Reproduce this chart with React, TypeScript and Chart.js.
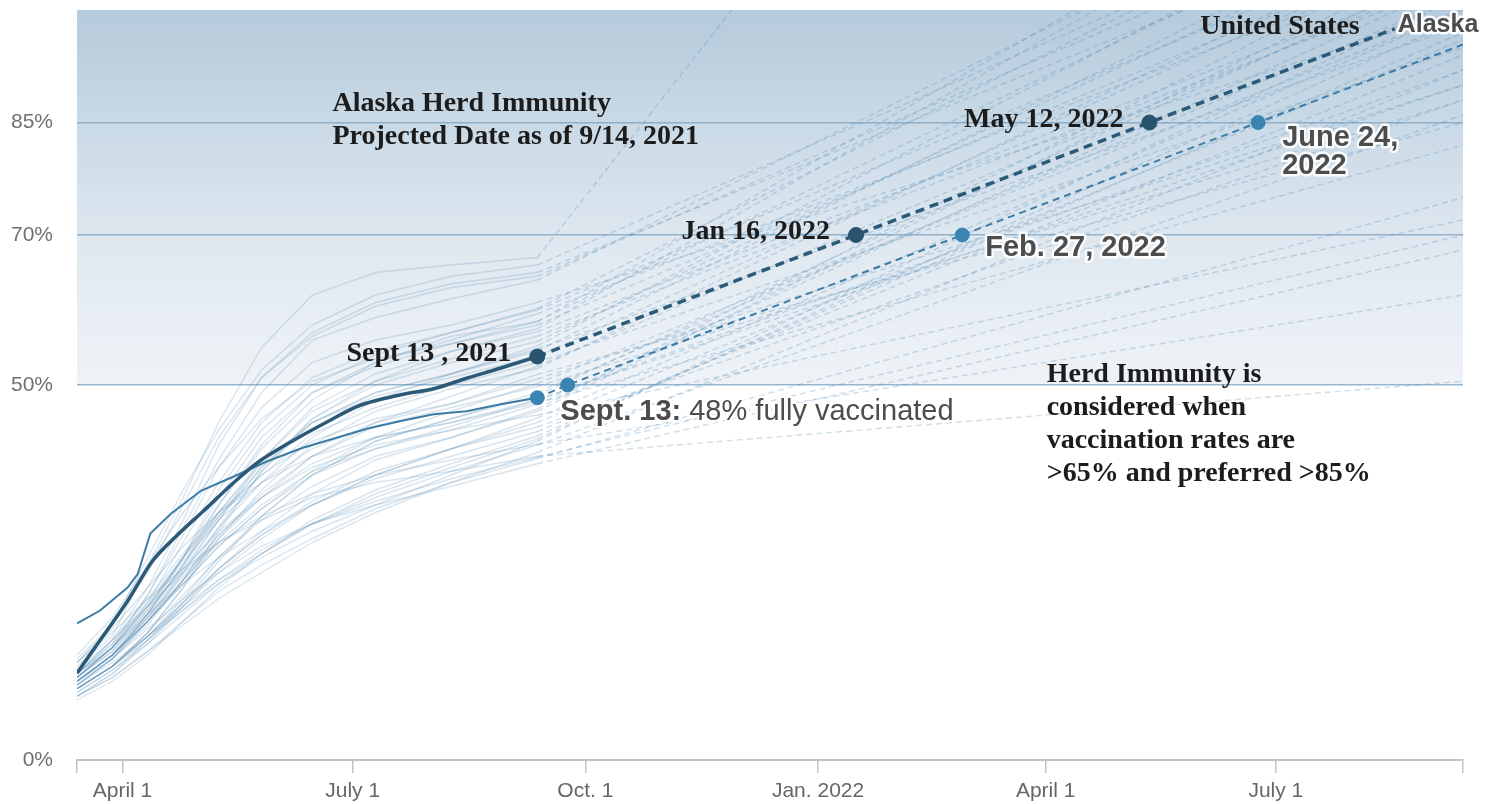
import React, { useEffect, useRef } from 'react';
import { Chart, registerables } from 'chart.js';

Chart.register(...registerables);

// x values are days counted from Jan 1, 2021 (day 0)
const X_MIN = 72; // Mar 14, 2021
const X_MAX = 620; // Sep 13, 2022
const X_TICK_DAYS = [72, 90, 181, 273, 365, 455, 546, 620];
const X_TICK_LABELS = ['', 'April 1', 'July 1', 'Oct. 1', 'Jan. 2022', 'April 1', 'July 1', ''];
const Y_TICK_VALUES = [0, 50, 70, 85];
const Y_TICK_LABELS = ['0%', '50%', '70%', '85%'];

// United States, % fully vaccinated
const US_DAYS = [72, 81, 92, 102, 112, 122, 134, 144, 157, 171, 184, 200, 213, 226, 239, 254];
const US_VALUES = [11.6, 15.9, 21.2, 26.6, 30.1, 33.2, 37.0, 39.8, 42.5, 45.1, 47.3, 48.7, 49.5, 50.9, 52.2, 53.8];
const US_PROJ_DAYS = [254, 380, 496, 593];
const US_PROJ_VALUES = [53.8, 70, 85, 97.5];
const US_MILESTONE_DAYS = [254, 380, 496];
const US_MILESTONE_VALUES = [53.8, 70, 85];
const US_MILESTONE_LABELS = ['Sept 13 , 2021', 'Jan 16, 2022', 'May 12, 2022'];

// Alaska, % fully vaccinated
const AK_DAYS = [72, 81, 92, 96, 101, 109, 121, 134, 147, 161, 175, 187, 200, 213, 226, 239, 254];
const AK_VALUES = [18.2, 19.9, 23.0, 24.8, 30.2, 32.8, 35.9, 37.8, 39.8, 41.6, 43.0, 44.2, 45.2, 46.1, 46.5, 47.4, 48.3];
const AK_PROJ_DAYS = [254, 266, 422, 539, 620];
const AK_PROJ_VALUES = [48.3, 50, 70, 85, 95.4];
const AK_MILESTONE_DAYS = [254, 266, 422, 539];
const AK_MILESTONE_VALUES = [48.3, 50, 70, 85];

// Other states: history on STATE_DAYS, then straight projection to X_MAX
const STATE_DAYS = [72, 86, 100, 114, 128, 145, 165, 190, 220, 254];
const STATE_NAMES = [
  'VT', 'ME', 'MA', 'CT', 'RI', 'NH', 'NJ', 'MD', 'WA', 'NY', 'NM', 'HI', 'OR', 'DC', 'CO', 'VA',
  'CA', 'MN', 'DE', 'PA', 'WI', 'IL', 'FL', 'IA', 'NE', 'MI', 'AZ', 'UT', 'NV', 'KS', 'KY', 'SD',
  'OH', 'NC', 'TX', 'MT', 'SC', 'MO', 'IN', 'OK', 'GA', 'ND', 'AR', 'TN', 'LA', 'MS', 'AL', 'WV',
  'WY', 'ID',
];
const STATE_VALUES = [
  [12.5, 16.5, 26, 35, 45, 55, 62, 65, 66, 67],
  [13.5, 18, 27, 36, 44, 52, 58, 62, 64.5, 66],
  [11.5, 16, 23, 32, 42, 51, 57, 61, 63.5, 65],
  [13, 18, 25, 34, 43, 51, 56.5, 60.5, 63, 64.5],
  [11, 15, 22, 31, 40, 49, 56, 59, 61.5, 64],
  [11.5, 15.5, 22, 30, 39, 47, 53, 56, 58, 61],
  [11, 15, 21, 29, 37, 45, 51, 54.5, 57, 60],
  [10, 13.5, 19.5, 27, 36, 44, 50, 54, 57, 60.2],
  [10.5, 14, 19.5, 26, 34, 42, 49, 53, 56, 59.5],
  [11, 14.5, 20, 27, 35, 43, 49, 52.5, 55.5, 58.5],
  [14, 19, 26, 33, 39, 45.5, 50.5, 53.5, 55.5, 58],
  [11.5, 15, 20.5, 27, 34, 41.5, 48, 53, 56.5, 58.4],
  [10.5, 14, 19, 25.5, 32, 40, 47, 51.5, 54.5, 57.1],
  [9.5, 12.5, 17, 23, 30.5, 38.5, 45.5, 50.5, 54.5, 57.5],
  [11, 14.5, 19.5, 26, 33, 40, 46.5, 50.5, 53.5, 56.5],
  [10, 13.5, 18.5, 25, 32, 39, 45.5, 50, 53, 55.8],
  [10, 13.5, 18, 24, 31, 38.5, 45, 49, 51.5, 54.5],
  [11, 15, 20.5, 27, 33, 39.5, 45, 49, 51.5, 54.8],
  [10.5, 14, 19, 25, 31, 37, 43, 48, 51.5, 55.2],
  [10.5, 14, 19.5, 26, 32.5, 39, 45, 48.5, 51, 53.8],
  [11.5, 15.5, 21, 27, 32.5, 38, 43.5, 47, 50, 53],
  [9.5, 12.5, 17, 23, 29.5, 36, 42, 46.5, 49.5, 52.2],
  [10.5, 14, 18.5, 24, 29.5, 35, 40.5, 45, 48.5, 52.5],
  [11.5, 16, 21.5, 27.5, 33, 38, 42.5, 45.5, 47.5, 51.4],
  [11, 15, 20.5, 26.5, 32, 37, 41.5, 45, 47.5, 50.8],
  [10, 13.5, 18.5, 24, 30, 35.5, 40.5, 44.5, 47, 49.8],
  [10.5, 14, 18.5, 23.5, 28.5, 33.5, 38.5, 43, 46.5, 50.2],
  [8.5, 11.5, 16, 21, 26.5, 32.5, 38, 42.5, 45.5, 48.6],
  [9.5, 12.5, 16.5, 21.5, 27, 32.5, 38, 42.5, 45.5, 49],
  [10.5, 14, 18.5, 23.5, 28.5, 33.5, 38, 41.5, 44.5, 48],
  [10.5, 14, 18.5, 24, 29, 34, 38.5, 41.5, 44, 47.4],
  [13, 17.5, 23, 28.5, 33, 37, 40.5, 43, 45, 47.6],
  [10.5, 14, 19, 24.5, 30, 35, 39.5, 43, 45, 48],
  [9.5, 12.5, 17, 22, 27, 32, 36.5, 40.5, 43, 46.5],
  [8.5, 11.5, 15.5, 20.5, 25.5, 30.5, 35.5, 40, 43, 46.8],
  [11, 15, 20, 25.5, 30.5, 35, 39, 42, 44, 46],
  [9, 12, 16, 20.5, 25, 29.5, 34, 38, 41.5, 45.6],
  [9.5, 12.5, 16.5, 21, 25.5, 30, 34, 38, 41.5, 45],
  [9.5, 12.5, 16.5, 21, 25.5, 30, 34.5, 38.5, 41.5, 44.4],
  [11.5, 15, 19.5, 23.5, 27, 30.5, 34, 37.5, 40.5, 43.8],
  [8, 10.5, 14, 18.5, 23, 27.5, 32, 36, 39.5, 43.2],
  [12, 16, 20.5, 25, 29, 32.5, 35.5, 38, 40, 42.1],
  [9.5, 12.5, 16.5, 20.5, 24, 27.5, 31.5, 35.5, 39, 42.8],
  [9, 12, 15.5, 19.5, 23.5, 27.5, 31.5, 35, 38.5, 42],
  [10, 13, 16.5, 20, 23.5, 27, 30.5, 34, 38, 42.5],
  [8.5, 11, 14.5, 18, 21.5, 25, 29, 33, 37, 41],
  [8.5, 11, 14.5, 18.5, 22.5, 26, 29.5, 33.5, 37, 40.2],
  [13, 17, 21.5, 25.5, 29, 32, 35, 37, 38.5, 40.5],
  [10.5, 13.5, 17.5, 21.5, 25, 28.5, 31.5, 34, 36.5, 39.5],
  [9.5, 12.5, 16, 20, 24, 28, 31.5, 34.5, 37.5, 40.4],
];
// projected % fully vaccinated on Sep 13, 2022 (values above 100 run off the top)
const STATE_PROJ_END = [
  224, 120, 115, 118, 125, 100, 112, 122, 108, 118, 110, 130, 105, 128, 104, 114,
  116, 98, 120, 110, 95, 112, 105, 85, 90, 88, 100, 106, 102, 92, 104, 82,
  90, 108, 110, 72, 100, 96, 88, 94, 97, 62, 99, 86, 102, 92, 75, 50.5,
  68, 70,
];

const SERIF = '"Liberation Serif", "Times New Roman", serif';
const SANS = '"Liberation Sans", Arial, Helvetica, sans-serif';

function pts(days: number[], vals: number[]) {
  return days.map((d, i) => ({ x: d, y: vals[i] }));
}

const overlayPlugin = {
  id: 'overlay',
  beforeDraw(chart: any) {
    const { ctx, chartArea: ca, scales } = chart;
    const y50 = scales.y.getPixelForValue(50);
    ctx.save();
    const g = ctx.createLinearGradient(0, ca.top, 0, y50);
    g.addColorStop(0, '#b5cadb');
    g.addColorStop(0.3, '#c9d9e6');
    g.addColorStop(0.62, '#dfe8f0');
    g.addColorStop(1, '#eff3f7');
    ctx.fillStyle = g;
    ctx.fillRect(ca.left, ca.top, ca.right - ca.left, y50 - ca.top);
    ctx.restore();
  },
  afterDraw(chart: any) {
    const { ctx, scales } = chart;
    const xs = (v: number) => scales.x.getPixelForValue(v);
    const ys = (v: number) => scales.y.getPixelForValue(v);
    ctx.save();
    ctx.textBaseline = 'alphabetic';

    const serif = (t: string, x: number, y: number, align: CanvasTextAlign = 'left') => {
      ctx.font = `bold 28px ${SERIF}`;
      ctx.textAlign = align;
      ctx.fillStyle = '#1c1c1c';
      ctx.fillText(t, x, y);
    };
    const halo = (t: string, x: number, y: number, font: string) => {
      ctx.font = font;
      ctx.textAlign = 'left';
      ctx.lineJoin = 'round';
      ctx.lineWidth = 5;
      ctx.strokeStyle = 'rgba(255,255,255,0.9)';
      ctx.strokeText(t, x, y);
      ctx.fillStyle = '#4d4d4d';
      ctx.fillText(t, x, y);
      return ctx.measureText(t).width;
    };

    // Title
    serif('Alaska Herd Immunity', xs(173), ys(86.5));
    serif('Projected Date as of 9/14, 2021', xs(173), ys(82.1));

    // US milestones
    US_MILESTONE_DAYS.forEach((d, i) => {
      serif(US_MILESTONE_LABELS[i], xs(d) - 26, ys(US_MILESTONE_VALUES[i]) + 4, 'right');
    });
    const usEndX = xs(US_PROJ_DAYS[US_PROJ_DAYS.length - 1]);
    const usEndY = ys(US_PROJ_VALUES[US_PROJ_VALUES.length - 1]);
    serif('United States', usEndX - 35, usEndY + 5, 'right');
    halo('Alaska', usEndX + 3, usEndY + 3, `bold 25px ${SANS}`);

    // Alaska milestones
    const boldSans = `bold 29px ${SANS}`;
    halo('Feb. 27, 2022', xs(422) + 23, ys(70) + 21, boldSans);
    halo('June 24,', xs(539) + 24, ys(85) + 23, boldSans);
    halo('2022', xs(539) + 24, ys(85) + 51, boldSans);
    const sx = xs(254) + 23;
    const sy = ys(48.3) + 22;
    const w = halo('Sept. 13:', sx, sy, boldSans);
    halo(' 48% fully vaccinated', sx + w, sy, `29px ${SANS}`);

    // Herd immunity note
    const note = ['Herd Immunity is', 'considered when', 'vaccination rates are', '>65% and preferred >85%'];
    note.forEach((t, i) => serif(t, xs(455) + 1, ys(50) - 3 + i * 33));
    ctx.restore();
  },
};

export default function App() {
  const canvasRef = useRef<HTMLCanvasElement | null>(null);

  useEffect(() => {
    if (!canvasRef.current) return;
    const stateColor = 'rgba(80,135,178,0.22)';
    const stateDash = 'rgba(80,135,178,0.28)';
    const stateSets = STATE_NAMES.map((name, i) => ({
      label: name,
      data: [
        ...pts(STATE_DAYS, STATE_VALUES[i]),
        { x: X_MAX, y: STATE_PROJ_END[i] },
      ],
      borderColor: stateColor,
      borderWidth: 1.4,
      pointRadius: 0,
      tension: 0,
      segment: {
        borderDash: (c: any) => (c.p0.parsed.x >= 254 ? [6, 4] : undefined),
        borderColor: (c: any) => (c.p0.parsed.x >= 254 ? stateDash : undefined),
      },
    }));

    const chart = new Chart(canvasRef.current, {
      type: 'line',
      data: {
        datasets: [
          {
            label: 'US milestones',
            data: pts(US_MILESTONE_DAYS, US_MILESTONE_VALUES),
            showLine: false,
            pointRadius: 7.5,
            pointBackgroundColor: '#2a536d',
            pointBorderColor: '#2a536d',
          },
          {
            label: 'Alaska milestones',
            data: pts(AK_MILESTONE_DAYS, AK_MILESTONE_VALUES),
            showLine: false,
            pointRadius: 7,
            pointBackgroundColor: '#3a84b1',
            pointBorderColor: '#3a84b1',
          },
          {
            label: 'United States',
            data: pts(US_DAYS, US_VALUES),
            borderColor: '#2b5a78',
            borderWidth: 3.5,
            pointRadius: 0,
            tension: 0.3,
          },
          {
            label: 'United States projection',
            data: pts(US_PROJ_DAYS, US_PROJ_VALUES),
            borderColor: '#2b5a78',
            borderWidth: 3.5,
            borderDash: [9, 6],
            pointRadius: 0,
            tension: 0,
          },
          {
            label: 'Alaska',
            data: pts(AK_DAYS, AK_VALUES),
            borderColor: '#3b7ca5',
            borderWidth: 2,
            pointRadius: 0,
            tension: 0,
          },
          {
            label: 'Alaska projection',
            data: pts(AK_PROJ_DAYS, AK_PROJ_VALUES),
            borderColor: '#3b7ca5',
            borderWidth: 2,
            borderDash: [7, 5],
            pointRadius: 0,
            tension: 0,
          },
          ...stateSets,
        ],
      },
      options: {
        animation: false,
        responsive: false,
        maintainAspectRatio: false,
        layout: { padding: { top: 10, right: 34, left: 0, bottom: 0 }, autoPadding: false },
        plugins: { legend: { display: false }, tooltip: { enabled: false } },
        events: [],
        scales: {
          x: {
            type: 'linear',
            min: X_MIN,
            max: X_MAX,
            afterBuildTicks: (s: any) => {
              s.ticks = X_TICK_DAYS.map((v) => ({ value: v }));
            },
            afterFit: (s: any) => {
              s.height = 44;
              s.paddingLeft = 0;
              s.paddingRight = 0;
              s.paddingTop = 0;
              s.paddingBottom = 0;
            },
            ticks: {
              autoSkip: false,
              maxRotation: 0,
              padding: 6,
              color: '#666',
              font: { family: SANS, size: 21 },
              callback: (_v: any, i: number) => X_TICK_LABELS[i],
            },
            grid: {
              drawOnChartArea: false,
              drawTicks: true,
              tickLength: 13,
              color: '#c4c4c4',
              lineWidth: 1.5,
            },
            border: { display: true, color: '#c4c4c4', width: 2 },
          },
          y: {
            type: 'linear',
            min: 0,
            max: 100,
            afterBuildTicks: (s: any) => {
              s.ticks = Y_TICK_VALUES.map((v) => ({ value: v }));
            },
            afterFit: (s: any) => {
              s.width = 77;
              s.paddingLeft = 0;
              s.paddingRight = 0;
              s.paddingTop = 0;
              s.paddingBottom = 0;
            },
            ticks: {
              padding: 24,
              color: '#707070',
              font: { family: SANS, size: 21 },
              callback: (_v: any, i: number) => Y_TICK_LABELS[i],
            },
            grid: {
              drawTicks: false,
              color: (c: any) => (c.tick && c.tick.value === 0 ? 'rgba(0,0,0,0)' : 'rgba(120,160,192,0.75)'),
              lineWidth: 1.5,
            },
            border: { display: false },
          },
        },
      },
      plugins: [overlayPlugin],
    });
    return () => chart.destroy();
  }, []);

  return (
    <div style={{ position: 'fixed', left: 0, top: 0, width: 1497, height: 804, background: '#fff' }}>
      <canvas ref={canvasRef} width={1497} height={804} style={{ width: 1497, height: 804, display: 'block' }} />
    </div>
  );
}
